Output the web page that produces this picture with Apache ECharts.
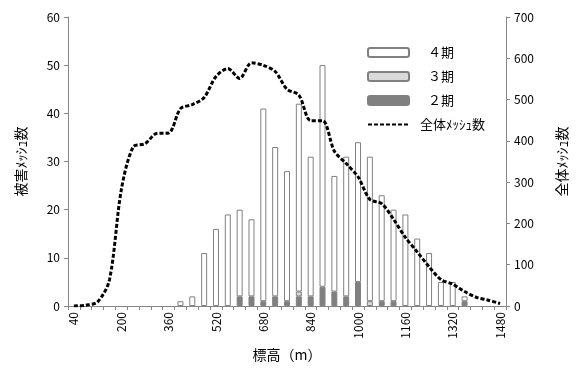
<!DOCTYPE html>
<html>
<head>
<meta charset="utf-8">
<script src="https://cdn.jsdelivr.net/npm/echarts@6/dist/echarts.min.js"></script>
<style>
  html, body { margin: 0; padding: 0; background: #fff; }
  #chart { width: 577px; height: 369px; }
</style>
</head>
<body>
<div id="chart"></div>
<script>
// Elevation classes (m), 40 m bins
const elevations = [40, 80, 120, 160, 200, 240, 280, 320, 360, 400, 440, 480, 520, 560, 600, 640,
  680, 720, 760, 800, 840, 880, 920, 960, 1000, 1040, 1080, 1120, 1160, 1200, 1240, 1280, 1320,
  1360, 1400, 1440, 1480];

// Damaged mesh counts per period (stacked: 2期 bottom, 3期, 4期 top)
const period2 = [0, 0, 0, 0, 0, 0, 0, 0, 0, 0, 0, 0, 0, 0, 2, 2, 1, 2, 1, 2, 2, 4, 3, 2, 5, 0,
  1, 1, 0, 0, 0, 0, 0, 1, 0, 0, 0];
const period3 = [0, 0, 0, 0, 0, 0, 0, 0, 0, 0, 0, 0, 0, 0, 0, 0, 0, 0, 0, 1, 0, 0, 0, 0, 0, 1,
  0, 0, 0, 0, 0, 0, 0, 0, 0, 0, 0];
const period4 = [0, 0, 0, 0, 0, 0, 0, 0, 0, 1, 2, 11, 16, 19, 18, 16, 40, 31, 27, 39, 29, 46, 24, 29, 29, 30,
  22, 19, 19, 14, 11, 5, 5, 1, 0, 0, 0];

// Total mesh count per elevation class (right axis)
const totalMesh = [0, 2, 10, 63, 281, 385, 393, 418, 419, 478, 488, 505, 556, 575, 551, 589, 583,
  568, 525, 511, 449, 449, 375, 345, 313, 258, 248, 210, 166, 131, 95, 64, 53, 35, 21, 14, 6];

const FONT = '"Noto Sans CJK JP", "DejaVu Sans", sans-serif';
const AXIS_GRAY = '#868686';
const BAR_BORDER = '#808080';

const blankZero = arr => arr.map(v => (v === 0 ? '-' : v));

const chart = echarts.init(document.getElementById('chart'), null, { renderer: 'canvas' });

const barBase = {
  type: 'bar',
  stack: 'damage',
  barWidth: 6,
  yAxisIndex: 0,
  xAxisIndex: 0
};

chart.setOption({
  animation: false,
  backgroundColor: '#fff',
  textStyle: { fontFamily: FONT },
  grid: { left: 68, right: 62, top: 17, bottom: 63, containLabel: false },
  legend: {
    orient: 'vertical',
    left: 362,
    top: 41,
    itemWidth: 41,
    itemHeight: 9,
    itemGap: 11,
    textStyle: { fontFamily: FONT, fontSize: 13, color: '#000', padding: [0, 0, 0, 6] },
    data: [
      { name: '４期', textStyle: { padding: [0, 0, 0, 14] } },
      { name: '３期', textStyle: { padding: [0, 0, 0, 14] } },
      { name: '２期', textStyle: { padding: [0, 0, 0, 14] } },
      { name: '全体ﾒｯｼｭ数', itemStyle: { opacity: 0 }, textStyle: { padding: [0, 0, 0, 6] } }
    ]
  },
  xAxis: {
    type: 'category',
    data: elevations,
    boundaryGap: true,
    name: '標高（m）',
    nameLocation: 'middle',
    nameGap: 42,
    nameTextStyle: { fontFamily: FONT, fontSize: 14, color: '#000' },
    axisLine: { lineStyle: { color: AXIS_GRAY, width: 1 } },
    axisTick: { show: true, interval: 0, length: 4, lineStyle: { color: AXIS_GRAY } },
    axisLabel: {
      interval: 3,
      rotate: 90,
      margin: 6,
      fontFamily: FONT,
      fontSize: 12,
      color: '#000'
    },
    splitLine: { show: false }
  },
  yAxis: [
    {
      type: 'value',
      min: 0,
      max: 60,
      interval: 10,
      name: '被害ﾒｯｼｭ数',
      nameLocation: 'middle',
      nameRotate: 90,
      nameGap: 40,
      nameTextStyle: { fontFamily: FONT, fontSize: 14, color: '#000' },
      axisLine: { show: true, lineStyle: { color: AXIS_GRAY, width: 1 } },
      axisTick: { show: true, length: 4, lineStyle: { color: AXIS_GRAY } },
      axisLabel: { margin: 8, fontFamily: FONT, fontSize: 12, color: '#000' },
      splitLine: { show: false }
    },
    {
      type: 'value',
      min: 0,
      max: 700,
      interval: 100,
      position: 'right',
      name: '全体ﾒｯｼｭ数',
      nameLocation: 'middle',
      nameRotate: 90,
      nameGap: 49,
      nameTextStyle: { fontFamily: FONT, fontSize: 14, color: '#000' },
      axisLine: { show: true, lineStyle: { color: AXIS_GRAY, width: 1 } },
      axisTick: { show: true, length: 4, lineStyle: { color: AXIS_GRAY } },
      axisLabel: { margin: 8, fontFamily: FONT, fontSize: 12, color: '#000' },
      splitLine: { show: false }
    }
  ],
  series: [
    Object.assign({}, barBase, {
      name: '２期',
      data: blankZero(period2),
      itemStyle: { color: '#808080', borderColor: BAR_BORDER, borderWidth: 1 }
    }),
    Object.assign({}, barBase, {
      name: '３期',
      data: blankZero(period3),
      itemStyle: { color: '#d9d9d9', borderColor: BAR_BORDER, borderWidth: 1 }
    }),
    Object.assign({}, barBase, {
      name: '４期',
      data: blankZero(period4),
      itemStyle: { color: '#ffffff', borderColor: BAR_BORDER, borderWidth: 1 }
    }),
    {
      name: '全体ﾒｯｼｭ数',
      type: 'line',
      yAxisIndex: 1,
      data: totalMesh,
      symbol: 'none',
      smooth: 0.3,
      z: 5,
      itemStyle: { color: '#000' },
      lineStyle: { color: '#000', width: 3, type: [4, 2] }
    }
  ]
});
</script>
</body>
</html>
